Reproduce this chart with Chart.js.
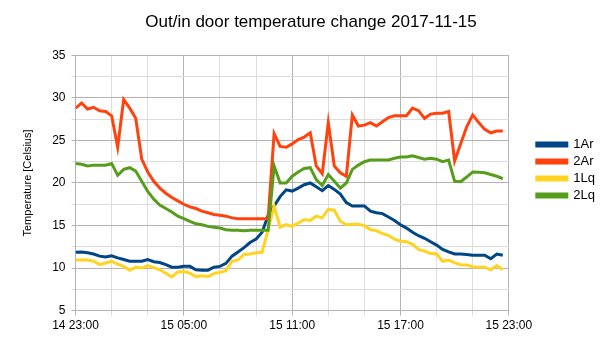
<!DOCTYPE html>
<html>
<head>
<meta charset="utf-8">
<script src="https://cdn.jsdelivr.net/npm/chart.js@4/dist/chart.umd.min.js"></script>
<style>
  html, body { margin: 0; padding: 0; background: #fff; }
  #wrap { width: 605px; height: 340px; }
</style>
</head>
<body>
<div id="wrap"><canvas id="tempChart" width="605" height="340"></canvas></div>
<script>
// minutes after 14 23:00, one reading every 20 min
const minutes = [0, 20, 40, 60, 80, 100, 120, 140, 160, 180, 200, 220,
  240, 260, 280, 300, 320, 340, 360, 380, 400, 420, 440, 460,
  480, 500, 520, 540, 560, 580, 600, 620, 640, 660, 680, 700,
  720, 740, 760, 780, 800, 820, 840, 860, 880, 900, 920, 940,
  960, 980, 1000, 1020, 1040, 1060, 1080, 1100, 1120, 1140, 1160, 1180,
  1200, 1220, 1240, 1260, 1280, 1300, 1320, 1340, 1360, 1380, 1400, 1420];

const tickLabels = { 0: '14 23:00', 6: '15 05:00', 12: '15 11:00', 18: '15 17:00', 24: '15 23:00' };

const temp1Ar = [11.85, 11.9, 11.8, 11.65, 11.4, 11.3, 11.45, 11.2, 11.0, 10.8, 10.8, 10.8,
  11.0, 10.75, 10.65, 10.4, 10.1, 10.1, 10.2, 10.2, 9.8, 9.75, 9.75, 10.1,
  10.2, 10.55, 11.4, 11.9, 12.4, 13.0, 13.4, 14.2, 16.2, 17.3, 18.4, 19.2,
  19.05, 19.4, 19.8, 20.0, 19.55, 19.1, 19.7, 19.25, 18.7, 17.7, 17.3, 17.3,
  17.3, 16.7, 16.5, 16.4, 16.0, 15.6, 15.1, 14.7, 14.2, 13.8, 13.5, 13.1,
  12.7, 12.2, 11.9, 11.65, 11.65, 11.6, 11.5, 11.5, 11.5, 11.1, 11.65, 11.5];

const temp2Ar = [28.8, 29.4, 28.7, 28.9, 28.5, 28.4, 27.9, 24.2, 29.8, 28.8, 27.6, 22.8,
  21.3, 20.2, 19.4, 18.8, 18.3, 17.9, 17.5, 17.2, 17.0, 16.7, 16.5, 16.3,
  16.2, 16.1, 15.9, 15.8, 15.8, 15.8, 15.8, 15.8, 15.8, 25.8, 24.3, 24.2,
  24.6, 25.1, 25.4, 25.9, 22.0, 21.1, 27.1, 22.0, 21.2, 20.8, 28.0, 26.7,
  26.8, 27.1, 26.7, 27.2, 27.7, 27.9, 27.9, 27.9, 28.8, 28.5, 27.6, 28.1,
  28.2, 28.2, 28.4, 22.6, 24.6, 26.6, 28.0, 27.1, 26.3, 25.9, 26.1, 26.1];

const temp1Lq = [10.95, 10.95, 10.95, 10.8, 10.4, 10.6, 10.8, 10.45, 10.2, 9.75, 10.1, 10.0,
  10.3, 10.05, 9.8, 9.4, 8.95, 9.55, 9.6, 9.4, 9.0, 9.1, 9.0, 9.35,
  9.5, 9.7, 10.8, 10.95, 11.6, 11.65, 11.8, 11.85, 14.5, 17.3, 14.8, 15.1,
  14.9, 15.3, 15.7, 15.6, 16.1, 15.9, 16.9, 16.8, 15.5, 15.1, 15.15, 15.15,
  15.0, 14.5, 14.4, 14.05, 13.85, 13.4, 13.15, 13.1, 12.8, 12.2, 12.0, 11.7,
  11.65, 10.8, 10.95, 10.6, 10.4, 10.35, 10.15, 10.1, 10.1, 9.8, 10.3, 9.8];

const temp2Lq = [22.3, 22.2, 22.0, 22.1, 22.1, 22.1, 22.3, 20.9, 21.6, 21.8, 21.4, 20.2,
  19.0, 18.1, 17.4, 17.0, 16.6, 16.1, 15.8, 15.5, 15.2, 15.1, 14.9, 14.8,
  14.7, 14.5, 14.45, 14.45, 14.4, 14.45, 14.45, 14.45, 14.45, 22.0, 20.0, 20.0,
  20.8, 21.3, 21.7, 21.8, 20.4, 19.7, 21.0, 20.2, 19.4, 20.0, 21.6, 22.1,
  22.5, 22.7, 22.7, 22.7, 22.7, 22.9, 23.05, 23.05, 23.2, 23.0, 22.8, 22.9,
  22.8, 22.5, 22.7, 20.2, 20.15, 20.7, 21.3, 21.25, 21.2, 21.0, 20.8, 20.5];

const seriesNames = ['1Ar', '2Ar', '1Lq', '2Lq'];
const seriesColors = ['#004586', '#ff420e', '#ffd320', '#579d1c'];
const seriesValues = [temp1Ar, temp2Ar, temp1Lq, temp2Lq];

const FONT = 'Liberation Sans, Arial, sans-serif';

function toPoints(values) {
    return values.map((v, i) => ({ x: minutes[i] / 60, y: v }));
}

const datasets = seriesNames.map((name, i) => ({
    label: name,
    data: toPoints(seriesValues[i]),
    borderColor: seriesColors[i],
    backgroundColor: seriesColors[i],
    borderWidth: 3,
    pointRadius: 0,
    tension: 0,
    fill: false,
    order: seriesNames.length - i // later series drawn on top, like the original
}));

new Chart(document.getElementById('tempChart'), {
    type: 'line',
    data: { datasets: datasets },
    options: {
        responsive: false,
        animation: false,
        layout: { padding: { left: 17, right: 0, top: 4, bottom: 4 } },
        plugins: {
            title: {
                display: true,
                text: 'Out/in door temperature change 2017-11-15',
                color: '#000',
                font: { family: FONT, size: 17, weight: 'normal' },
                padding: { top: 8, bottom: 23 }
            },
            legend: {
                position: 'right',
                labels: {
                    color: '#000',
                    font: { family: FONT, size: 13 },
                    boxWidth: 30,
                    boxHeight: 3,
                    padding: 4,
                    sort: (a, b) => a.datasetIndex - b.datasetIndex
                }
            },
            tooltip: { enabled: false }
        },
        scales: {
            x: {
                type: 'linear',
                min: 0,
                max: 24,
                ticks: {
                    stepSize: 2,
                    autoSkip: false,
                    maxRotation: 0,
                    color: '#000',
                    font: { family: FONT, size: 12 },
                    callback: (v) => tickLabels[v] || ''
                },
                grid: {
                    color: (c) => (c.tick && c.tick.value % 6 === 0) ? '#b3b3b3' : '#dddddd',
                    tickLength: 5
                },
                border: { color: '#b3b3b3' }
            },
            y: {
                min: 5,
                max: 35,
                ticks: {
                    stepSize: 2.5,
                    color: '#000',
                    font: { family: FONT, size: 12 },
                    padding: 6,
                    callback: (v) => (v % 5 === 0) ? String(v) : ''
                },
                grid: {
                    color: (c) => (c.tick && c.tick.value % 5 === 0) ? '#b3b3b3' : '#dddddd',
                    tickLength: 4
                },
                border: { color: '#b3b3b3' },
                title: {
                    display: true,
                    text: 'Temperature [Celsius]',
                    color: '#000',
                    font: { family: FONT, size: 11 },
                    padding: { bottom: 12 }
                }
            },
            // empty axis, only keeps a gap between the plot and the legend
            gap: {
                position: 'right',
                display: true,
                grid: { display: false },
                ticks: { display: false },
                border: { display: false },
                afterFit: (scale) => { scale.width = 24; }
            }
        }
    }
});
</script>
</body>
</html>
